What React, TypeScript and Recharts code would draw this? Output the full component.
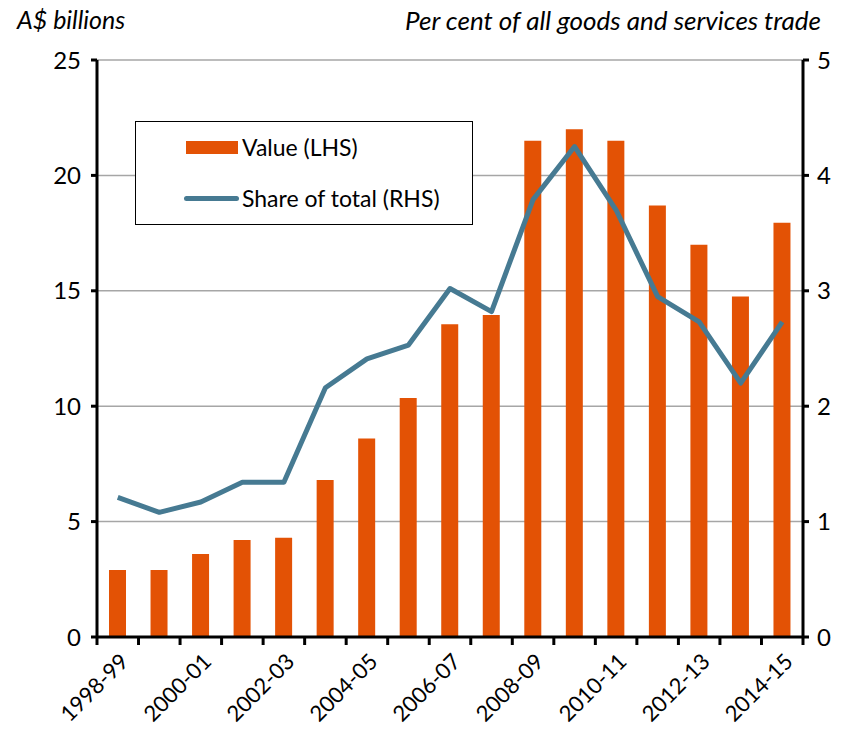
import { ComposedChart, Bar, Line, XAxis, YAxis, CartesianGrid } from "recharts";

const years = [
    "1998-99", "1999-00", "2000-01", "2001-02", "2002-03", "2003-04", "2004-05", "2005-06", "2006-07",
    "2007-08", "2008-09", "2009-10", "2010-11", "2011-12", "2012-13", "2013-14", "2014-15",
];
const valueLhs = [2.9, 2.9, 3.6, 4.2, 4.3, 6.8, 8.6, 10.35, 13.55, 13.95, 21.5, 22.0, 21.5, 18.7, 17.0, 14.75, 17.95];
const shareRhs = [1.21, 1.08, 1.17, 1.34, 1.34, 2.16, 2.41, 2.53, 3.02, 2.82, 3.79, 4.25, 3.7, 2.95, 2.73, 2.2, 2.73];
const leftTicks = [0, 5, 10, 15, 20, 25];
const rightTicks = [0, 1, 2, 3, 4, 5];

const data = years.map((year, i) => ({ year, value: valueLhs[i], share: shareRhs[i] }));

const W = 854;
const H = 734;
const LEFT_W = 97;
const RIGHT_W = 51;
const BAND = (W - LEFT_W - RIGHT_W) / years.length;
const ORANGE = "#E35205";
const TEAL = "#467A92";
const FONT = "Lato, 'Open Sans', sans-serif";

const YearTick = (props: any) => {
    const { x, y, payload, index } = props;
    const lx = x + 6;
    const ly = y + 20;
    return (
        <g>
            <line x1={x - BAND / 2} x2={x - BAND / 2} y1={y} y2={y + 8} stroke="#000" strokeWidth={3} />
            {index === years.length - 1 && (
                <line x1={x + BAND / 2} x2={x + BAND / 2} y1={y} y2={y + 8} stroke="#000" strokeWidth={3} />
            )}
            {index % 2 === 0 && (
                <text
                    x={lx}
                    y={ly}
                    textAnchor="end"
                    dominantBaseline="central"
                    transform={`rotate(-45, ${lx}, ${ly})`}
                    fontSize={22}
                    fontFamily={FONT}
                    fill="#000"
                >
                    {payload.value}
                </text>
            )}
        </g>
    );
};

const LegendBox = () => (
    <div style={{ position: "absolute", left: 135, top: 121, width: 336, height: 102, border: "1.5px solid #000", background: "#fff", fontFamily: FONT, fontSize: 23 }}>
        <div style={{ position: "absolute", left: 50, top: 19, width: 52, height: 13, background: ORANGE }} />
        <div style={{ position: "absolute", left: 106, top: 11, lineHeight: "28px" }}>Value (LHS)</div>
        <div style={{ position: "absolute", left: 48, top: 74, width: 55, height: 5, borderRadius: 3, background: TEAL }} />
        <div style={{ position: "absolute", left: 106, top: 62, lineHeight: "28px" }}>Share of total (RHS)</div>
    </div>
);

export default function App() {
    return (
        <div style={{ position: "absolute", left: 0, top: 0, width: W, height: H, background: "#fff" }}>
            <ComposedChart width={W} height={H} data={data} margin={{ top: 60, right: 0, bottom: 0, left: 0 }} barSize={17}>
                <CartesianGrid yAxisId="left" vertical={false} stroke="#a6a6a6" strokeWidth={1.5} />
                <XAxis
                    dataKey="year"
                    interval={0}
                    height={97}
                    tickSize={0}
                    tickMargin={0}
                    tickLine={false}
                    axisLine={{ stroke: "#000", strokeWidth: 3 }}
                    tick={<YearTick />}
                />
                <YAxis
                    yAxisId="left"
                    width={LEFT_W}
                    domain={[0, 25]}
                    ticks={leftTicks}
                    tickSize={6}
                    tickMargin={10}
                    axisLine={{ stroke: "#000", strokeWidth: 3 }}
                    tickLine={{ stroke: "#000", strokeWidth: 3 }}
                    tick={{ fill: "#000", fontSize: 24, fontFamily: FONT }}
                />
                <YAxis
                    yAxisId="right"
                    orientation="right"
                    width={RIGHT_W}
                    domain={[0, 5]}
                    ticks={rightTicks}
                    tickSize={6}
                    tickMargin={8}
                    axisLine={{ stroke: "#000", strokeWidth: 3 }}
                    tickLine={{ stroke: "#000", strokeWidth: 3 }}
                    tick={{ fill: "#000", fontSize: 24, fontFamily: FONT }}
                />
                <Bar yAxisId="left" dataKey="value" name="Value (LHS)" fill={ORANGE} isAnimationActive={false} />
                <Line
                    yAxisId="right"
                    dataKey="share"
                    name="Share of total (RHS)"
                    type="linear"
                    stroke={TEAL}
                    strokeWidth={5}
                    dot={false}
                    activeDot={false}
                    strokeLinejoin="round"
                    isAnimationActive={false}
                />
            </ComposedChart>
            <div style={{ position: "absolute", left: 17, top: 4, fontFamily: FONT, fontStyle: "italic", fontSize: 25 }}>A$ billions</div>
            <div style={{ position: "absolute", right: 33, top: 4, fontFamily: FONT, fontStyle: "italic", fontSize: 26 }}>
                Per cent of all goods and services trade
            </div>
            <LegendBox />
        </div>
    );
}
